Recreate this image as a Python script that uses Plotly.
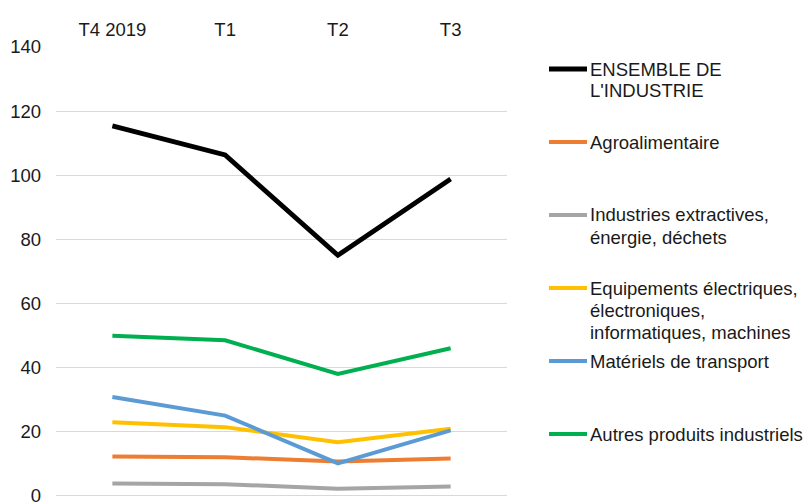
import plotly.graph_objects as go

categories = ["T4 2019", "T1", "T2", "T3"]
series_names = [
    "ENSEMBLE DE<br>L'INDUSTRIE",
    "Agroalimentaire",
    "Industries extractives,<br>énergie, déchets",
    "Equipements électriques,<br>électroniques,<br>informatiques, machines",
    "Matériels de transport",
    "Autres produits industriels",
]
ensemble = [115.4, 106.3, 75.0, 98.8]
agro = [12.2, 12.0, 10.7, 11.6]
extractives = [3.8, 3.6, 2.2, 2.9]
equipements = [22.9, 21.4, 16.7, 20.9]
transport = [30.8, 25.0, 10.1, 20.4]
autres = [49.9, 48.5, 38.0, 46.0]
y_ticks = [0, 20, 40, 60, 80, 100, 120, 140]

values = [ensemble, agro, extractives, equipements, transport, autres]
colors = ["#000000", "#ED7D31", "#A5A5A5", "#FFC000", "#5B9BD5", "#00B050"]
widths = [4.8, 4, 4, 4, 4, 4]

W, H = 807, 502
L, R, T, B = 56, 507, 47, 497
FONT = "Liberation Sans, Arial, sans-serif"
FS = 18.5
TXT = "#1a1a1a"

fig = go.Figure()
for name, v, c, w in zip(series_names, values, colors, widths):
    fig.add_trace(go.Scatter(x=categories, y=v, mode="lines", name=name.replace("<br>", " "),
                             line=dict(color=c, width=w), showlegend=False))

def px(xp):
    return (xp - L) / (R - L)

def py(yp):
    return (B - yp) / (B - T)

# custom legend (line sample + text lines)
leg_y = [69, 142, 215, 288, 361, 434]
line_gap = 22
for name, c, w, ly in zip(series_names, colors, widths, leg_y):
    fig.add_shape(type="line", xref="paper", yref="paper",
                  x0=px(549), x1=px(587), y0=py(ly), y1=py(ly),
                  line=dict(color=c, width=w))
    for i, part in enumerate(name.split("<br>")):
        fig.add_annotation(xref="paper", yref="paper", x=px(589), y=py(ly + i * line_gap),
                           text=part, showarrow=False, xanchor="left", yanchor="middle",
                           align="left", borderpad=0,
                           font=dict(family=FONT, size=FS, color=TXT))

fig.update_layout(
    width=W, height=H,
    margin=dict(l=L, r=W - R, t=T, b=H - B, pad=0, autoexpand=False),
    paper_bgcolor="white", plot_bgcolor="white",
    font=dict(family=FONT, size=FS, color=TXT),
    xaxis=dict(side="top", type="category", range=[-0.5, 3.5], showgrid=False,
               showline=False, ticks="", zeroline=False, ticklabelstandoff=6,
               automargin=False, tickfont=dict(size=FS)),
    yaxis=dict(range=[-0.4, 140], tickvals=y_ticks, showgrid=True, gridcolor="#d9d9d9",
               gridwidth=1.3, zeroline=False, showline=False, ticks="",
               ticklabelstandoff=14, automargin=False, ticklabeloverflow="allow",
               tickfont=dict(size=FS)),
)

fig.write_html("out.html", config={"displayModeBar": False},
               post_script="document.body.style.margin='0';document.body.style.overflow='hidden';")
